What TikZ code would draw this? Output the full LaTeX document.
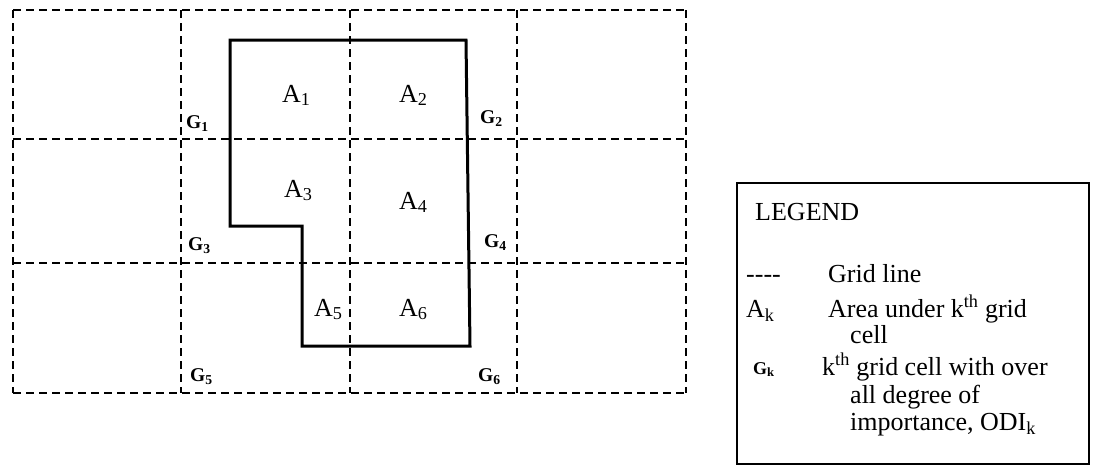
\documentclass[tikz,border=0pt]{standalone}
\usepackage{fontspec}
\setmainfont{Liberation Serif}
\begin{document}
\begin{tikzpicture}[x=1pt,y=-1pt,
  gridline/.style={dash pattern=on 8pt off 5pt, line width=1.7pt},
  outline/.style={line width=3pt, line join=miter},
  alab/.style={font=\fontsize{26}{29}\selectfont, inner sep=0, anchor=base west},
  glab/.style={font=\fontsize{19.5}{22}\selectfont\bfseries, inner sep=0, anchor=base west},
  leg/.style={font=\fontsize{26}{29}\selectfont, inner sep=0, anchor=base west},
  legbox/.style={draw, line width=1.2pt}]
\useasboundingbox (0,0) rectangle (1093,466);
% grid
\foreach \x in {13,181,350,517,686} \draw[gridline] (\x,10) -- (\x,393);
\foreach \y in {10,139,263,393} \draw[gridline] (13,\y) -- (686,\y);
% area outline
\draw[outline] (230,40) -- (466,40) -- (470,346) -- (302,346) -- (302,226) -- (230,226) -- cycle;
% area labels
\node[alab] (a1) at (282,102) {A\textsubscript{1}};
\node[alab] (a2) at (399,102) {A\textsubscript{2}};
\node[alab] (a3) at (284,197) {A\textsubscript{3}};
\node[alab] (a4) at (399,209) {A\textsubscript{4}};
\node[alab] (a5) at (314,316) {A\textsubscript{5}};
\node[alab] (a6) at (399,316) {A\textsubscript{6}};
% grid labels
\node[glab] (g1) at (186,128) {G\textsubscript{1}};
\node[glab] (g2) at (480,123) {G\textsubscript{2}};
\node[glab] (g3) at (188,250) {G\textsubscript{3}};
\node[glab] (g4) at (484,247) {G\textsubscript{4}};
\node[glab] (g5) at (190,381) {G\textsubscript{5}};
\node[glab] (g6) at (478,381) {G\textsubscript{6}};
% legend
\draw[legbox] (737,183) rectangle (1089,464);
\node[leg] (lt) at (755,220) {LEGEND};
\node[leg] (l1a) at (746,282) {-{}-{}-{}-};
\node[leg] (l1b) at (828,282) {Grid line};
\node[leg] (l2a) at (746,317) {A\textsubscript{k}};
\node[leg] (l2b) at (828,317) {Area under k\textsuperscript{th} grid};
\node[leg] (l2c) at (850,343) {cell};
\node[glab, font=\fontsize{18}{20}\selectfont\bfseries] (l3a) at (753,374) {G\textsubscript{k}};
\node[leg] (l3b) at (822,375) {k\textsuperscript{th} grid cell with over};
\node[leg] (l3c) at (850,403) {all degree of};
\node[leg] (l3d) at (850,430) {importance, ODI\textsubscript{k}};
\end{tikzpicture}
\end{document}
